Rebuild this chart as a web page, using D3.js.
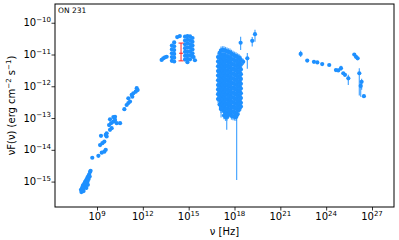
<!DOCTYPE html>
<html>
<head>
<meta charset="utf-8" />
<title>ON 231 SED</title>
<script src="https://d3js.org/d3.v7.min.js"></script>
<style>
  body { margin: 0; background: #fff; }
  svg text { font-family: 'DejaVu Sans', sans-serif; }
</style>
</head>
<body>
<script>
// all values are log10: nu in Hz, nuF(nu) in erg cm^-2 s^-1
const sourceName = 'ON 231';

const radioNu = [7.95, 7.98, 8.02, 8.05, 8.08, 8.10, 8.12, 8.15, 8.17, 8.21, 8.24, 8.28, 8.30, 8.30, 8.35, 8.38, 8.40, 8.41, 8.45, 8.48, 8.52, 8.54, 8.58];
const radioF = [-15.26, -15.33, -15.20, -15.28, -15.12, -15.22, -15.30, -15.08, -15.18, -15.02, -15.12, -14.96, -15.06, -15.20, -14.90, -15.00, -15.10, -14.84, -14.92, -14.78, -14.84, -14.70, -14.66];

const cmNu = [8.69, 9.09, 9.20, 9.26, 9.31, 9.35, 9.48, 9.48, 9.57, 9.57, 9.63, 9.63, 9.79, 9.85, 9.85, 9.92, 9.96, 10.07, 10.07, 10.18, 10.18, 10.29, 10.51, 10.79, 10.94, 11.05, 11.05, 11.16, 11.27, 11.31, 11.38, 11.53, 11.60, 11.66];
const cmF = [-14.25, -14.19, -13.85, -13.56, -14.09, -13.79, -14.06, -13.74, -14.00, -13.53, -13.48, -13.58, -13.22, -13.37, -13.04, -13.16, -13.32, -13.11, -12.97, -13.06, -12.96, -13.16, -13.16, -12.72, -12.59, -12.53, -12.38, -12.48, -12.27, -12.33, -12.22, -12.17, -12.06, -12.12];

const optNu = [13.23, 13.34, 13.45, 13.56,
  13.90, 13.90, 13.90, 13.90, 13.90,
  14.05, 14.05, 14.05, 14.05, 14.05, 14.05,
  14.25, 14.42,
  14.76, 14.76, 14.76, 14.76, 14.76, 14.76, 14.76,
  14.92, 14.92, 14.92, 14.92, 14.92, 14.92, 14.92, 14.92,
  15.09, 15.09, 15.09, 15.09, 15.09, 15.09, 15.09,
  15.25, 15.25, 15.25, 15.25, 15.25, 15.25,
  15.32, 15.41];
const optF = [-11.17, -11.12, -11.09, -11.07,
  -10.72, -10.84, -10.96, -11.08, -11.20,
  -10.62, -10.74, -10.86, -10.98, -11.10, -11.22,
  -10.45, -10.42,
  -10.44, -10.56, -10.68, -10.80, -10.92, -11.04, -11.16,
  -10.42, -10.54, -10.66, -10.78, -10.90, -11.02, -11.14, -11.24,
  -10.43, -10.55, -10.67, -10.79, -10.91, -11.03, -11.15,
  -10.48, -10.60, -10.72, -10.84, -10.96, -11.06,
  -11.08, -11.18];

// red reference point: nu, F, F low, F high
const redPoint = [14.50, -10.96, -11.20, -10.64];

// X-ray: one list of fluxes per frequency column
const xrayNu = [16.92, 17.02, 17.12, 17.22, 17.31, 17.41, 17.51, 17.60, 17.70, 17.80, 17.90, 18.00, 18.10, 18.20, 18.29, 18.36, 18.42];
const xrayF = [
  [-11.08, -11.22, -11.37, -11.52, -11.66, -11.81, -11.96, -12.10, -12.25, -12.40],
  [-10.95, -11.09, -11.24, -11.39, -11.54, -11.68, -11.83, -11.98, -12.13, -12.28, -12.43, -12.57],
  [-10.87, -11.01, -11.16, -11.31, -11.46, -11.60, -11.75, -11.90, -12.05, -12.20, -12.35, -12.50, -12.64, -12.72],
  [-10.86, -11.07, -11.22, -11.37, -11.52, -11.67, -11.82, -11.97, -12.12, -12.27, -12.42, -12.57, -12.71],
  [-10.86, -11.00, -11.14, -11.29, -11.44, -11.59, -11.74, -11.89, -12.04, -12.19, -12.34, -12.49, -12.63, -12.78, -12.92],
  [-10.88, -11.07, -11.22, -11.37, -11.52, -11.67, -11.82, -11.97, -12.12, -12.27, -12.42, -12.57, -12.71, -12.86, -12.97],
  [-10.90, -11.05, -11.20, -11.35, -11.50, -11.65, -11.80, -11.95, -12.10, -12.25, -12.40, -12.55, -12.70, -12.84, -12.96],
  [-10.92, -11.12, -11.27, -11.42, -11.57, -11.72, -11.87, -12.02, -12.17, -12.32, -12.47, -12.62, -12.77, -12.90],
  [-10.93, -11.08, -11.23, -11.38, -11.53, -11.68, -11.83, -11.98, -12.13, -12.28, -12.43, -12.58, -12.73, -12.86],
  [-10.97, -11.15, -11.30, -11.45, -11.60, -11.75, -11.90, -12.05, -12.20, -12.35, -12.50, -12.65, -12.80, -12.93],
  [-11.00, -11.15, -11.30, -11.45, -11.60, -11.75, -11.90, -12.05, -12.20, -12.35, -12.50, -12.65, -12.80, -12.95],
  [-11.03, -11.18, -11.33, -11.48, -11.63, -11.78, -11.93, -12.08, -12.23, -12.38, -12.53, -12.68, -12.83, -12.96],
  [-11.05, -11.20, -11.35, -11.50, -11.65, -11.80, -11.95, -12.10, -12.25, -12.40, -12.55, -12.70, -12.85, -12.97],
  [-11.08, -11.25, -11.40, -11.55, -11.70, -11.85, -12.00, -12.15, -12.30, -12.45, -12.60, -12.75, -12.88],
  [-11.10, -11.25, -11.40, -11.55, -11.70, -11.85, -12.00, -12.15, -12.30, -12.45, -12.60, -12.75],
  [-11.14, -11.30, -11.45, -11.60, -11.75, -11.90, -12.05, -12.20, -12.35, -12.50, -12.66],
  [-11.17, -11.32, -11.47, -11.62, -11.77, -11.92, -12.07, -12.22, -12.37, -12.52, -12.64]
];
// X-ray points with long error bars: nu, F, F low, F high
const xrayLong = [[17.49, -12.90, -13.37, -12.82], [18.14, -12.92, -14.95, -12.84], [17.12, -12.70, -12.98, -12.62]];

// hard X-ray: nu, F, F low, F high
const hxNu = [18.40, 18.57, 18.84, 19.16, 19.34];
const hxF = [-10.63, -11.23, -11.12, -10.57, -10.36];
const hxLo = [-10.86, -11.33, -11.45, -10.75, -10.60];
const hxHi = [-10.44, -11.13, -10.95, -10.45, -10.22];

// gamma rays
const gamNu = [22.33, 22.76, 23.20, 23.42, 23.74, 24.20, 24.64, 24.79, 24.97, 25.12, 25.23, 25.45, 25.84, 25.95, 26.06, 26.17, 26.26, 26.32, 26.47];
const gamF = [-10.98, -11.19, -11.23, -11.25, -11.30, -11.33, -11.49, -11.50, -11.43, -11.59, -11.64, -11.75, -11.00, -11.07, -11.12, -11.59, -11.99, -11.86, -12.31];
const gamLo = [0.10, 0.03, 0.03, 0.03, 0.03, 0.03, 0.04, 0.04, 0.08, 0.04, 0.05, 0.21, 0.05, 0.05, 0.05, 0.70, 0.34, 0.25, 0.05];
const gamHi = [0.10, 0.03, 0.03, 0.03, 0.03, 0.03, 0.04, 0.04, 0.08, 0.04, 0.05, 0.11, 0.05, 0.05, 0.05, 0.16, 0.13, 0.10, 0.05];

const xTickExp = [9, 12, 15, 18, 21, 24, 27];
const yTickExp = [-15, -14, -13, -12, -11, -10];

const blue = '#1e90ff';
const W = 399, H = 240;
const pLeft = 55, pRight = 394, pTop = 4, pBottom = 207;

const svg = d3.select('body').append('svg').attr('width', W).attr('height', H);

const x = d3.scaleLog().domain([Math.pow(10, 6.25), Math.pow(10, 28.44)]).range([pLeft, pRight]);
const y = d3.scaleLog().domain([Math.pow(10, -15.8), Math.pow(10, -9.41)]).range([pBottom, pTop]);
const p = (e) => Math.pow(10, e);

// collect points and error bars
let pts = [];
let bars = [];
radioNu.forEach((n, i) => {
  pts.push([n, radioF[i]]);
  bars.push([n, radioF[i] - 0.06, radioF[i] + 0.04]);
});
cmNu.forEach((n, i) => pts.push([n, cmF[i]]));
optNu.forEach((n, i) => pts.push([n, optF[i]]));
xrayNu.forEach((n, j) => {
  xrayF[j].forEach((f) => {
    pts.push([n, f]);
    bars.push([n, f - 0.12, f + 0.12]);
  });
});
xrayLong.forEach((d) => {
  pts.push([d[0], d[1]]);
  bars.push([d[0], d[2], d[3]]);
});
hxNu.forEach((n, i) => {
  pts.push([n, hxF[i]]);
  bars.push([n, hxLo[i], hxHi[i]]);
});
gamNu.forEach((n, i) => {
  pts.push([n, gamF[i]]);
  bars.push([n, gamF[i] - gamLo[i], gamF[i] + gamHi[i]]);
});

const plot = svg.append('g');

plot.selectAll('line.err')
  .data(bars)
  .enter()
  .append('line')
  .attr('x1', (d) => x(p(d[0])))
  .attr('x2', (d) => x(p(d[0])))
  .attr('y1', (d) => y(p(d[1])))
  .attr('y2', (d) => y(p(d[2])))
  .attr('stroke', blue)
  .attr('stroke-opacity', 0.8)
  .attr('stroke-width', 1.2);

plot.selectAll('circle')
  .data(pts)
  .enter()
  .append('circle')
  .attr('cx', (d) => x(p(d[0])))
  .attr('cy', (d) => y(p(d[1])))
  .attr('r', 2.1)
  .attr('fill', blue);

// red point with caps
const rx = x(p(redPoint[0]));
const red = plot.append('g').attr('stroke', '#ff2020').attr('stroke-width', 1);
red.append('line').attr('x1', rx).attr('x2', rx).attr('y1', y(p(redPoint[2]))).attr('y2', y(p(redPoint[3])));
[redPoint[2], redPoint[3]].forEach((v) => {
  red.append('line').attr('x1', rx - 2.5).attr('x2', rx + 2.5).attr('y1', y(p(v))).attr('y2', y(p(v)));
});
red.append('line').attr('x1', rx - 2).attr('x2', rx + 2).attr('y1', y(p(redPoint[1]))).attr('y2', y(p(redPoint[1])));

// axes
const xAxis = svg.append('g')
  .attr('transform', 'translate(0,' + pBottom + ')')
  .call(d3.axisBottom(x).tickValues(xTickExp.map(p)).tickSize(3.5).tickFormat(''));
const yAxis = svg.append('g')
  .attr('transform', 'translate(' + pLeft + ',0)')
  .call(d3.axisLeft(y).tickValues(yTickExp.map(p)).tickSize(3.5).tickFormat(''));
xAxis.select('.domain').remove();
yAxis.select('.domain').remove();
svg.selectAll('.tick line').attr('stroke', '#000').attr('stroke-width', 0.8);

xTickExp.forEach((e) => {
  const t = svg.append('text')
    .attr('x', x(p(e)))
    .attr('y', 220)
    .attr('text-anchor', 'middle')
    .style('font-size', '10px');
  t.append('tspan').text('10');
  t.append('tspan').attr('dy', -4.5).style('font-size', '7px').text(String(e));
});

yTickExp.forEach((e) => {
  const t = svg.append('text')
    .attr('x', 51)
    .attr('y', y(p(e)) + 3.5)
    .attr('text-anchor', 'end')
    .style('font-size', '10px');
  t.append('tspan').text('10');
  t.append('tspan').attr('dy', -4.5).style('font-size', '7px').text(String(e).replace('-', '\u2212'));
});

svg.append('rect')
  .attr('x', pLeft)
  .attr('y', pTop)
  .attr('width', pRight - pLeft)
  .attr('height', pBottom - pTop)
  .attr('fill', 'none')
  .attr('stroke', '#000')
  .attr('stroke-width', 1);

svg.append('text')
  .attr('x', 58)
  .attr('y', 13)
  .style('font-size', '7.5px')
  .text(sourceName);

svg.append('text')
  .attr('x', (pLeft + pRight) / 2)
  .attr('y', 235)
  .attr('text-anchor', 'middle')
  .style('font-size', '10px')
  .text('\u03bd [Hz]');

const yl = svg.append('text')
  .attr('transform', 'translate(15,' + (pTop + pBottom) / 2 + ') rotate(-90)')
  .attr('text-anchor', 'middle')
  .style('font-size', '10px');
yl.append('tspan').text('\u03bdF(\u03bd) (erg cm');
yl.append('tspan').attr('dy', -4).style('font-size', '7px').text('\u22122');
yl.append('tspan').attr('dy', 4).text(' s');
yl.append('tspan').attr('dy', -4).style('font-size', '7px').text('\u22121');
yl.append('tspan').attr('dy', 4).text(')');
</script>
</body>
</html>
